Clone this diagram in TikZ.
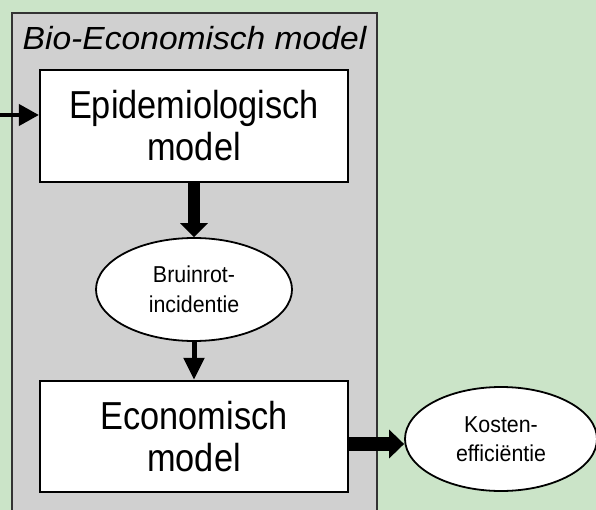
\documentclass[tikz,border=0pt]{standalone}
\usepackage{fontspec}
\setmainfont{Liberation Sans}
\newfontfamily\narrowfont{Liberation Sans}[FakeStretch=0.88]
\newfontfamily\ovalfont{Liberation Sans}[FakeStretch=0.93]
\newfontfamily\titlefont{Liberation Sans}[FakeStretch=1.05]
\usetikzlibrary{positioning,arrows.meta,shapes.geometric}
\definecolor{bggreen}{RGB}{203,228,200}
\definecolor{modelgray}{RGB}{208,208,208}
\tikzset{
	>={Triangle[length=14pt,width=27pt]}
}

\begin{document}
\begin{tikzpicture}[
	x = 1pt,
	y = -1pt,
	node distance = 54pt,
	every node/.style = {
		inner sep = 0pt
	},
	container/.style = {
		draw = black!80,
		line width = 2pt,
		fill = modelgray,
		minimum width = 365pt,
		minimum height = 520pt
	},
	box/.style = {
		draw,
		line width = 2.2pt,
		fill = white,
		minimum width = 308pt,
		minimum height = 112pt,
		align = center,
		font = \narrowfont\fontsize{39}{42}\selectfont
	},
	oval/.style = {
		ellipse,
		draw,
		line width = 1.8pt,
		fill = white,
		minimum width = 196pt,
		minimum height = 103pt,
		align = center,
		font = \ovalfont\fontsize{23}{29.5}\selectfont
	}
	]
	
	\fill[bggreen] (0,0) rectangle (596,510);
	\useasboundingbox (0,0) rectangle (596,510);
	\clip (0,0) rectangle (596,510);
	
	\node (bioecon) [container] at (194.5,273) {};
	\node (biotitle) [anchor=base, font=\titlefont\itshape\fontsize{32}{36}\selectfont] at (194.5,50) {Bio-Economisch model};
	
	\node (epi) [box] at (194,126) {Epidemiologisch\\model};
	\node (bruin) [oval, below = of epi] {Bruinrot-\\incidentie};
	\node (econ) [box, below = 38pt of bruin, minimum height = 111pt] {Economisch\\model};
	\node (kosten) [oval, right = 55pt of econ, yshift = -2.5pt, minimum width = 192pt, minimum height = 104pt] {Kosten-\\efficiëntie};
	
	\coordinate (input) at (0,115);
	\coordinate (output) at ([yshift=-7.5pt]econ.east);
	\draw[->, line width=4pt, >={Triangle[length=20pt,width=21pt]}] (input) -- (input -| epi.west);
	\draw[->, line width=12pt] (epi) -- (bruin);
	\draw[->, line width=5pt, >={Triangle[length=22pt,width=20pt]}] (bruin) -- (econ);
	\draw[->, line width=14pt, >={Triangle[length=15pt,width=28pt]}] (output) -- (output -| kosten.west);
	
\end{tikzpicture}
\end{document}
